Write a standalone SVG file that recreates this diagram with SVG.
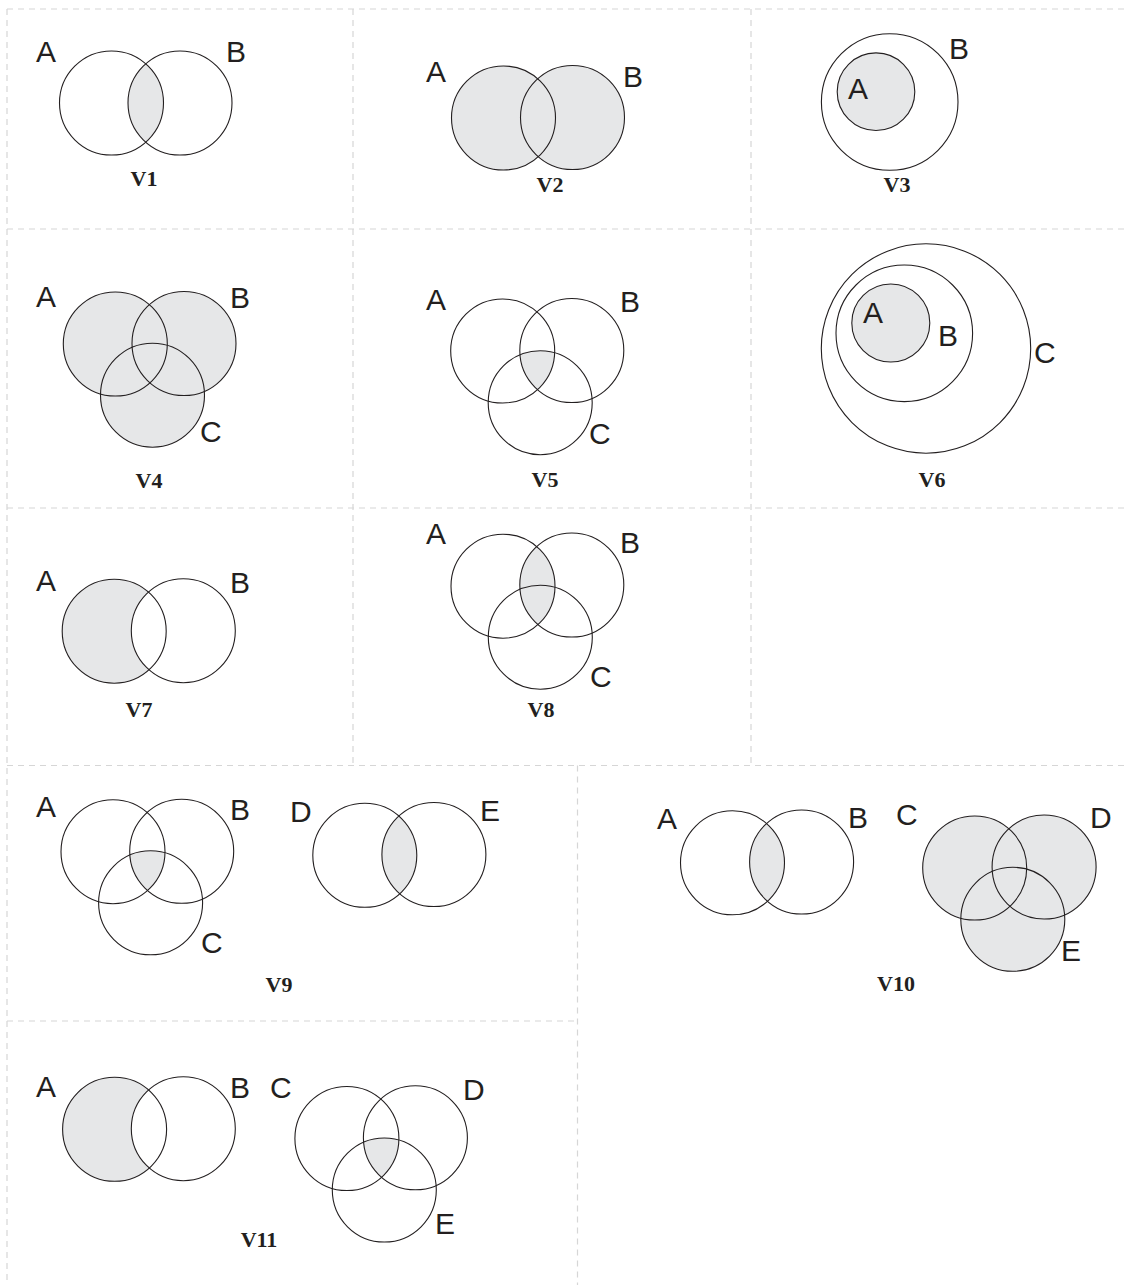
<svg xmlns="http://www.w3.org/2000/svg" width="1129" height="1285" viewBox="0 0 1129 1285">
<style>
.grid{stroke:#d6d6d6;stroke-width:1.2;stroke-dasharray:6 5;fill:none}
.c{fill:none;stroke:#231f20;stroke-width:1.1}
.f{fill:#e6e7e8}
.w{fill:#ffffff}
.lbl{font-family:"Liberation Sans",Arial,sans-serif;font-size:30px;fill:#231f20}
.cap{font-family:"Liberation Serif","Times New Roman",serif;font-size:22px;font-weight:bold;fill:#231f20;text-anchor:middle}
</style>
<defs>
<clipPath id="v1b"><circle cx="180" cy="103" r="52"/></clipPath>
<clipPath id="v5b"><circle cx="571.8" cy="350.5" r="52"/></clipPath>
<clipPath id="v5c"><circle cx="540.2" cy="402.7" r="52"/></clipPath>
<clipPath id="v8b"><circle cx="571.8" cy="585" r="52"/></clipPath>
<clipPath id="v9b"><circle cx="181.7" cy="851.3" r="52"/></clipPath>
<clipPath id="v9c"><circle cx="150.6" cy="902.8" r="52"/></clipPath>
<clipPath id="v9e"><circle cx="433.9" cy="854.5" r="52"/></clipPath>
<clipPath id="v10b"><circle cx="801.6" cy="862" r="52"/></clipPath>
<clipPath id="v11d"><circle cx="415.4" cy="1137.8" r="52"/></clipPath>
<clipPath id="v11e"><circle cx="384.3" cy="1190" r="52"/></clipPath>
</defs>
<rect width="1129" height="1285" fill="#ffffff"/>
<g id="grid">
<line class="grid" x1="7" y1="9" x2="1125" y2="9"/>
<line class="grid" x1="7" y1="9" x2="7" y2="1285"/>
<line class="grid" x1="7" y1="229" x2="1125" y2="229"/>
<line class="grid" x1="7" y1="508" x2="1125" y2="508"/>
<line class="grid" x1="7" y1="765.5" x2="1125" y2="765.5"/>
<line class="grid" x1="7" y1="1021" x2="577" y2="1021"/>
<line class="grid" x1="353" y1="9" x2="353" y2="765.5"/>
<line class="grid" x1="751" y1="9" x2="751" y2="765.5"/>
<line class="grid" x1="577.5" y1="765.5" x2="577.5" y2="1285"/>
</g>
<g id="connectors"></g>

<g id="v1">
<circle class="f" cx="111.5" cy="103" r="52" clip-path="url(#v1b)"/>
<circle class="c" cx="111.5" cy="103" r="52"/>
<circle class="c" cx="180" cy="103" r="52"/>
<text class="lbl" x="36" y="62">A</text>
<text class="lbl" x="226" y="62">B</text>
<text class="cap" x="144" y="186">V1</text>
</g>

<g id="v2">
<circle class="f" cx="503.5" cy="118" r="52"/>
<circle class="f" cx="572.5" cy="117.5" r="52"/>
<circle class="c" cx="503.5" cy="118" r="52"/>
<circle class="c" cx="572.5" cy="117.5" r="52"/>
<text class="lbl" x="426" y="82">A</text>
<text class="lbl" x="623" y="87">B</text>
<text class="cap" x="550" y="192">V2</text>
</g>

<g id="v3">
<circle class="c" cx="889.7" cy="102" r="68.3"/>
<circle class="f" cx="876" cy="91.7" r="38.8"/>
<circle class="c" cx="876" cy="91.7" r="38.8"/>
<text class="lbl" x="848" y="99">A</text>
<text class="lbl" x="949" y="59">B</text>
<text class="cap" x="897" y="192">V3</text>
</g>

<g id="v4">
<circle class="f" cx="115.3" cy="344" r="52"/>
<circle class="f" cx="184" cy="343.5" r="52"/>
<circle class="f" cx="152.5" cy="395.2" r="52"/>
<circle class="c" cx="115.3" cy="344" r="52"/>
<circle class="c" cx="184" cy="343.5" r="52"/>
<circle class="c" cx="152.5" cy="395.2" r="52"/>
<text class="lbl" x="36" y="307">A</text>
<text class="lbl" x="230" y="308">B</text>
<text class="lbl" x="200" y="442">C</text>
<text class="cap" x="149" y="488">V4</text>
</g>

<g id="v5">
<g clip-path="url(#v5c)"><circle class="f" cx="502.7" cy="351" r="52" clip-path="url(#v5b)"/></g>
<circle class="c" cx="502.7" cy="351" r="52"/>
<circle class="c" cx="571.8" cy="350.5" r="52"/>
<circle class="c" cx="540.2" cy="402.7" r="52"/>
<text class="lbl" x="426" y="310">A</text>
<text class="lbl" x="620" y="312">B</text>
<text class="lbl" x="589" y="444">C</text>
<text class="cap" x="545" y="487">V5</text>
</g>

<g id="v6">
<circle class="c" cx="926" cy="348.5" r="104.7"/>
<circle class="c" cx="904.3" cy="333.3" r="68.3"/>
<circle class="f" cx="890.8" cy="323" r="39"/>
<circle class="c" cx="890.8" cy="323" r="39"/>
<text class="lbl" x="863" y="323">A</text>
<text class="lbl" x="938" y="346">B</text>
<text class="lbl" x="1034" y="363">C</text>
<text class="cap" x="932" y="487">V6</text>
</g>

<g id="v7">
<circle class="f" cx="114.2" cy="631.2" r="52"/>
<circle class="w" cx="183.3" cy="630.7" r="52"/>
<circle class="c" cx="114.2" cy="631.2" r="52"/>
<circle class="c" cx="183.3" cy="630.7" r="52"/>
<text class="lbl" x="36" y="591">A</text>
<text class="lbl" x="230" y="593">B</text>
<text class="cap" x="139" y="717">V7</text>
</g>

<g id="v8">
<circle class="f" cx="503" cy="586.2" r="52" clip-path="url(#v8b)"/>
<circle class="c" cx="503" cy="586.2" r="52"/>
<circle class="c" cx="571.8" cy="585" r="52"/>
<circle class="c" cx="540.3" cy="637.2" r="52"/>
<text class="lbl" x="426" y="544">A</text>
<text class="lbl" x="620" y="553">B</text>
<text class="lbl" x="590" y="687">C</text>
<text class="cap" x="541" y="717">V8</text>
</g>

<g id="v9">
<g clip-path="url(#v9c)"><circle class="f" cx="113" cy="851.7" r="52" clip-path="url(#v9b)"/></g>
<circle class="f" cx="364.8" cy="855.3" r="52" clip-path="url(#v9e)"/>
<circle class="c" cx="113" cy="851.7" r="52"/>
<circle class="c" cx="181.7" cy="851.3" r="52"/>
<circle class="c" cx="150.6" cy="902.8" r="52"/>
<circle class="c" cx="364.8" cy="855.3" r="52"/>
<circle class="c" cx="433.9" cy="854.5" r="52"/>
<text class="lbl" x="36" y="817">A</text>
<text class="lbl" x="230" y="820">B</text>
<text class="lbl" x="201" y="953">C</text>
<text class="lbl" x="290" y="822">D</text>
<text class="lbl" x="480" y="821">E</text>
<text class="cap" x="279" y="992">V9</text>
</g>

<g id="v10">
<circle class="f" cx="732.5" cy="862.8" r="52" clip-path="url(#v10b)"/>
<circle class="f" cx="974.7" cy="868" r="52"/>
<circle class="f" cx="1044.1" cy="867" r="52"/>
<circle class="f" cx="1012.8" cy="919.3" r="52"/>
<circle class="c" cx="732.5" cy="862.8" r="52"/>
<circle class="c" cx="801.6" cy="862" r="52"/>
<circle class="c" cx="974.7" cy="868" r="52"/>
<circle class="c" cx="1044.1" cy="867" r="52"/>
<circle class="c" cx="1012.8" cy="919.3" r="52"/>
<text class="lbl" x="657" y="829">A</text>
<text class="lbl" x="848" y="828">B</text>
<text class="lbl" x="896" y="825">C</text>
<text class="lbl" x="1090" y="828">D</text>
<text class="lbl" x="1061" y="961">E</text>
<text class="cap" x="896" y="991">V10</text>
</g>

<g id="v11">
<circle class="f" cx="114.6" cy="1129.3" r="52"/>
<circle class="w" cx="183.3" cy="1128.7" r="52"/>
<g clip-path="url(#v11e)"><circle class="f" cx="346.9" cy="1138.5" r="52" clip-path="url(#v11d)"/></g>
<circle class="c" cx="114.6" cy="1129.3" r="52"/>
<circle class="c" cx="183.3" cy="1128.7" r="52"/>
<circle class="c" cx="346.9" cy="1138.5" r="52"/>
<circle class="c" cx="415.4" cy="1137.8" r="52"/>
<circle class="c" cx="384.3" cy="1190" r="52"/>
<text class="lbl" x="36" y="1097">A</text>
<text class="lbl" x="230" y="1098">B</text>
<text class="lbl" x="270" y="1098">C</text>
<text class="lbl" x="463" y="1100">D</text>
<text class="lbl" x="435" y="1234">E</text>
<text class="cap" x="259" y="1247">V11</text>
</g>
</svg>
